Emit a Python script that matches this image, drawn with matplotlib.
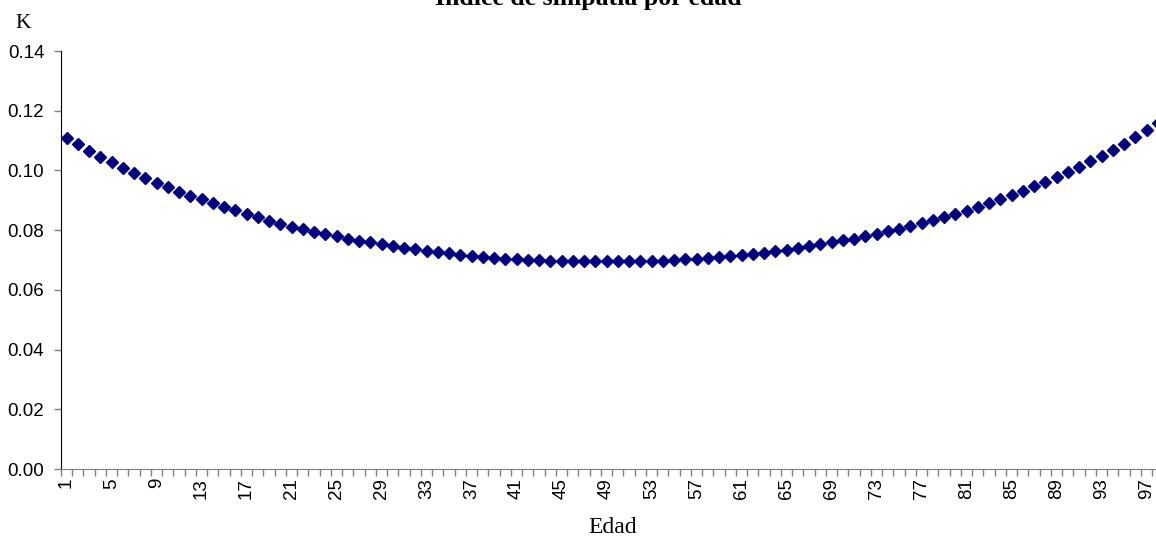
import numpy as np
import matplotlib
matplotlib.use("Agg")
import matplotlib.pyplot as plt
from matplotlib.ticker import FormatStrFormatter, FixedLocator

# Índice K por edad (1..98)
edad = np.arange(1, 99)
k_indice = [
    0.1110, 0.1087, 0.1066, 0.1046, 0.1027, 0.1008, 0.0990, 0.0974, 0.0958, 0.0943,
    0.0929, 0.0916, 0.0903, 0.0890, 0.0878, 0.0866, 0.0854, 0.0843, 0.0832, 0.0822,
    0.0812, 0.0803, 0.0795, 0.0787, 0.0779, 0.0772, 0.0765, 0.0759, 0.0753, 0.0747,
    0.0741, 0.0736, 0.0731, 0.0727, 0.0722, 0.0718, 0.0714, 0.0711, 0.0708, 0.0705,
    0.0703, 0.0701, 0.0699, 0.0698, 0.0697, 0.0696, 0.0695, 0.0695, 0.0695, 0.0695,
    0.0695, 0.0696, 0.0697, 0.0698, 0.0700, 0.0702, 0.0704, 0.0707, 0.0710, 0.0712,
    0.0716, 0.0720, 0.0724, 0.0729, 0.0734, 0.0740, 0.0746, 0.0752, 0.0759, 0.0766,
    0.0772, 0.0779, 0.0787, 0.0796, 0.0805, 0.0814, 0.0823, 0.0833, 0.0843, 0.0854,
    0.0865, 0.0877, 0.0890, 0.0904, 0.0918, 0.0932, 0.0947, 0.0962, 0.0978, 0.0995,
    0.1012, 0.1030, 0.1049, 0.1069, 0.1090, 0.1112, 0.1135, 0.1160,
]
etiquetas_x = list(range(1, 98, 4))
ticks_y = [0.00, 0.02, 0.04, 0.06, 0.08, 0.10, 0.12, 0.14]

W, H = 1156, 537
fig = plt.figure(figsize=(W / 100, H / 100), dpi=100)

# el eje se sale un poco por la derecha, igual que en la hoja original
izq, abajo, arriba = 61, 469, 51
ancho = len(edad) * 11.25
ax = fig.add_axes([izq / W, 1 - abajo / H, ancho / W, (abajo - arriba) / H])

ax.plot(edad, k_indice, linestyle="none", marker="D", markersize=6.3,
        color="#000080", markeredgecolor="#000080", clip_on=False)

ax.set_xlim(0.5, len(edad) + 0.5)
ax.set_ylim(0, 0.14)

ax.xaxis.set_major_locator(FixedLocator(etiquetas_x))
ax.xaxis.set_minor_locator(FixedLocator(np.arange(0.5, len(edad) + 1, 1)))
ax.tick_params(axis="x", which="major", length=0, pad=6.5, labelrotation=90)
ax.tick_params(axis="x", which="minor", length=5, width=1, color="#808080")
ax.set_yticks(ticks_y)
ax.yaxis.set_major_formatter(FormatStrFormatter("%.2f"))
ax.tick_params(axis="y", length=5, width=1, color="#808080", pad=7)

for lab in ax.get_xticklabels() + ax.get_yticklabels():
    lab.set_fontfamily("Liberation Sans")
    lab.set_fontsize(13.5)

ax.spines["top"].set_visible(False)
ax.spines["right"].set_visible(False)
ax.spines["left"].set_color("black")
ax.spines["bottom"].set_color("#808080")

fig.text(588 / W, 1 - 5.5 / H, "Índice de simpatía por edad", ha="center", va="baseline",
         fontfamily="Liberation Serif", fontweight="bold", fontsize=18.5)
fig.text(23 / W, 1 - 28 / H, "K", ha="center", va="baseline",
         fontfamily="Liberation Serif", fontsize=15.5)
fig.text(613 / W, 1 - 533 / H, "Edad", ha="center", va="baseline",
         fontfamily="Liberation Serif", fontsize=17)

fig.savefig("out.png", dpi=100)
